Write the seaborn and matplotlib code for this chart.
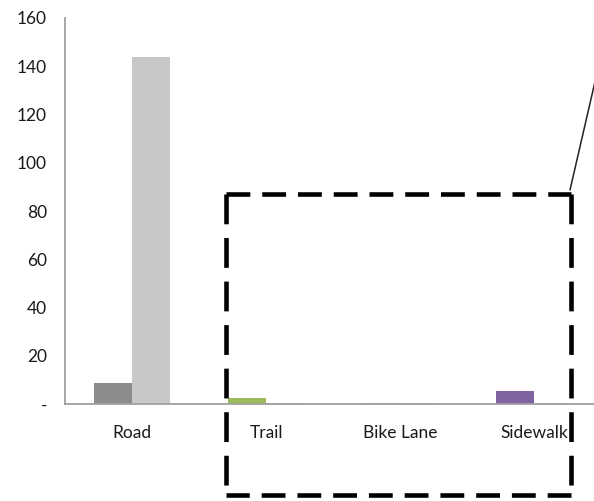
import matplotlib
matplotlib.use("Agg")
import matplotlib.pyplot as plt
import seaborn as sns
import pandas as pd
from matplotlib.lines import Line2D

categories = ["Road", "Trail", "Bike Lane", "Sidewalk"]
series_a = [8.7, 2.6, 0.6, 5.4]
series_b = [144, 0.5, 0.4, 0.4]
colors_a = ["#8c8c8c", "#9bbb59", "#a6a6a6", "#8064a2"]
color_b = "#c8c8c8"
yticks = [0, 20, 40, 60, 80, 100, 120, 140, 160]
ytick_labels = ["-", "20", "40", "60", "80", "100", "120", "140", "160"]

df = pd.DataFrame({
    "category": categories * 2,
    "series": ["A"] * 4 + ["B"] * 4,
    "value": series_a + series_b,
})

sns.set_style("white")
plt.rcParams["font.family"] = ["Lato", "DejaVu Sans"]

W, H = 594, 501
fig = plt.figure(figsize=(W / 100, H / 100), dpi=100)
ax = fig.add_axes([65 / W, (H - 404) / H, 536 / W, 386 / H])

sns.barplot(data=df, x="category", y="value", hue="series",
            palette=[colors_a[0], color_b], width=0.57, ax=ax,
            legend=False, saturation=1)

# first series has a different colour per category
for patch, c in zip(ax.containers[0], colors_a):
    patch.set_facecolor(c)
for patch in ax.patches:
    patch.set_edgecolor("none")

ax.set_xlim(-0.5, 3.5)
ax.set_ylim(0, 160)
ax.set_yticks(yticks)
ax.set_yticklabels(ytick_labels)
ax.set_xlabel("")
ax.set_ylabel("")

ax.set_xticks([0, 1, 2, 3])
ax.set_xticklabels(categories)
ax.set_xticks([-0.5, 0.5, 1.5, 2.5, 3.5], minor=True)
ax.tick_params(axis="x", which="major", length=0, pad=15, labelsize=12.5, labelcolor="#1a1a1a")
ax.tick_params(axis="x", which="minor", length=5, color="#a0a0a0", width=1.2, direction="out")
ax.tick_params(axis="y", length=5, color="#a0a0a0", width=1.2, direction="out",
               labelsize=12.5, labelcolor="#1a1a1a", pad=8)

for side in ["top", "right"]:
    ax.spines[side].set_visible(False)
for side in ["left", "bottom"]:
    ax.spines[side].set_color("#a0a0a0")
    ax.spines[side].set_linewidth(1.3)

# dashed callout box drawn in figure pixels
def fx(x):
    return x / W

def fy(y):
    return 1 - y / H

left, right, top, bottom = 226, 571, 194, 495
horiz = dict(transform=fig.transFigure, color="black", linewidth=3.3,
             linestyle=(0, (5.2, 2.6)))
vert = dict(transform=fig.transFigure, color="black", linewidth=3.3,
            linestyle=(0, (6.5, 3.0)))
fig.add_artist(Line2D([fx(left), fx(right)], [fy(top), fy(top)], **horiz))
fig.add_artist(Line2D([fx(right), fx(left)], [fy(bottom), fy(bottom)], **horiz))
fig.add_artist(Line2D([fx(left), fx(left)], [fy(top), fy(bottom)], **vert))
fig.add_artist(Line2D([fx(right), fx(right)], [fy(top), fy(bottom)], **vert))
diag = Line2D([fx(570), fx(600)], [fy(190), fy(60)],
              transform=fig.transFigure, color="#222222", linewidth=1.1)
fig.add_artist(diag)

fig.savefig("out.png", dpi=100)
